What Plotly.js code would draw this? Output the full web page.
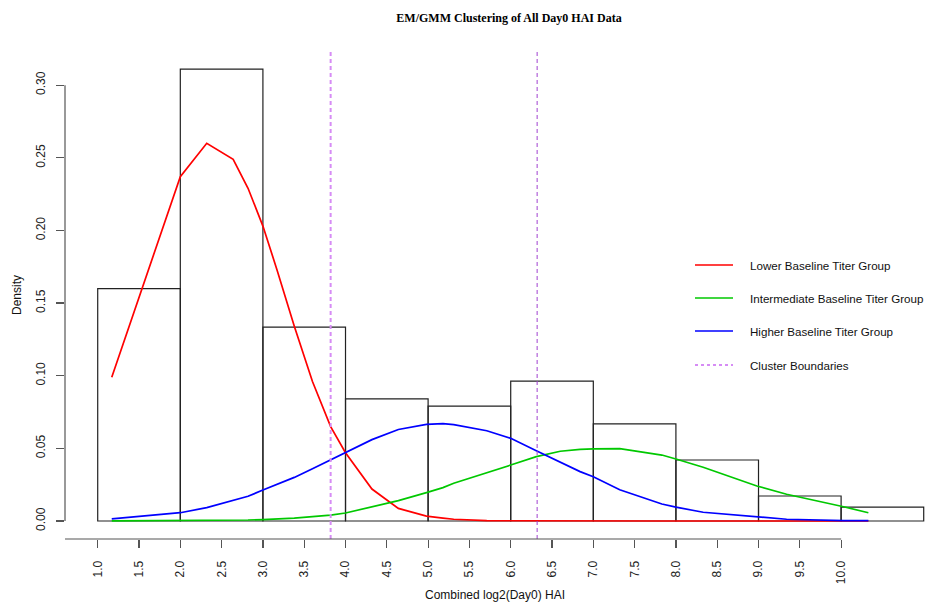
<!DOCTYPE html>
<html>
<head>
<meta charset="utf-8">
<script src="https://cdn.plot.ly/plotly-3.0.1.min.js"></script>
<style>
  html, body { margin: 0; padding: 0; background: #fff; }
  #chart { width: 925px; height: 603px; }
</style>
</head>
<body>
<div id="chart"></div>
<script>
// Histogram of combined log2(Day0) HAI (density scale, unit-wide bins)
const binLeft = [1, 2, 3, 4, 5, 6, 7, 8, 9, 10];
const binDensity = [0.160, 0.311, 0.1335, 0.084, 0.079, 0.0963, 0.0668, 0.042, 0.0172, 0.0096];

// Fitted component densities evaluated at the sorted titer values
const gridX = [1.17, 2.0, 2.32, 2.64, 2.82, 3.0, 3.17, 3.38, 3.6, 3.82, 4.0, 4.32, 4.64, 4.98, 5.18,
               5.31, 5.71, 6.0, 6.31, 6.6, 6.84, 7.0, 7.32, 7.83, 8.0, 8.33, 8.98, 9.34, 10.03, 10.33];
const lowerGroup = [0.099, 0.237, 0.260, 0.249, 0.229, 0.203, 0.173, 0.134, 0.096, 0.065, 0.047, 0.022,
                    0.0087, 0.0034, 0.002, 0.0012, 0.0002, 0.0001, 0, 0, 0, 0, 0, 0, 0, 0, 0, 0, 0, 0];
const intermediateGroup = [0.0001, 0.0002, 0.0003, 0.0005, 0.0007, 0.001, 0.0014, 0.002, 0.003, 0.004,
                           0.0055, 0.0095, 0.014, 0.0195, 0.023, 0.026, 0.033, 0.0385, 0.0443, 0.048,
                           0.0493, 0.0497, 0.0498, 0.0454, 0.0427, 0.037, 0.0241, 0.0184, 0.0098, 0.0057];
const higherGroup = [0.0014, 0.0057, 0.0092, 0.014, 0.017, 0.0213, 0.025, 0.030, 0.036, 0.042, 0.047,
                     0.056, 0.063, 0.0665, 0.067, 0.0663, 0.0621, 0.0569, 0.0484, 0.0408, 0.034, 0.0305,
                     0.0215, 0.0117, 0.0095, 0.006, 0.003, 0.0012, 0.0003, 0.0002];

// Decision boundaries between clusters
const clusterBoundaries = [3.82, 6.32];

// Axis ticks
const xTicks = [1, 1.5, 2, 2.5, 3, 3.5, 4, 4.5, 5, 5.5, 6, 6.5, 7, 7.5, 8, 8.5, 9, 9.5, 10];
const xTickText = ["1.0", "1.5", "2.0", "2.5", "3.0", "3.5", "4.0", "4.5", "5.0", "5.5",
                   "6.0", "6.5", "7.0", "7.5", "8.0", "8.5", "9.0", "9.5", "10.0"];
const yTicks = [0, 0.05, 0.10, 0.15, 0.20, 0.25, 0.30];
const yTickText = ["0.00", "0.05", "0.10", "0.15", "0.20", "0.25", "0.30"];

const legendLabels = ["Lower Baseline Titer Group", "Intermediate Baseline Titer Group",
                      "Higher Baseline Titer Group", "Cluster Boundaries"];

const RED = "#ff0000", GREEN = "#00c800", BLUE = "#0000ff";
const BOUND1 = "#d68cf5", BOUND2 = "#a040d0";
const FONT = "Liberation Sans, Arial, sans-serif";

const traces = [
  {
    type: "bar",
    x: binLeft,
    y: binDensity,
    width: 1,
    offset: 0,
    marker: { color: "rgba(255,255,255,0)", line: { color: "#222", width: 1.2 } },
    hoverinfo: "skip",
    showlegend: false
  },
  { type: "scatter", mode: "lines", x: gridX, y: lowerGroup, line: { color: RED, width: 1.7 }, showlegend: false },
  { type: "scatter", mode: "lines", x: gridX, y: intermediateGroup, line: { color: GREEN, width: 1.7 }, showlegend: false },
  { type: "scatter", mode: "lines", x: gridX, y: higherGroup, line: { color: BLUE, width: 1.7 }, showlegend: false }
];

const shapes = [
  // cluster boundaries
  { type: "line", xref: "x", yref: "paper", x0: clusterBoundaries[0], x1: clusterBoundaries[0], y0: 0, y1: 1,
    line: { color: BOUND1, width: 2, dash: "4px,3px" } },
  { type: "line", xref: "x", yref: "paper", x0: clusterBoundaries[1], x1: clusterBoundaries[1], y0: 0, y1: 1,
    line: { color: BOUND2, width: 1, dash: "4px,3px" } },
  // axis lines spanning the tick range
  { type: "line", xref: "paper", yref: "y", x0: 0, x1: 0, y0: yTicks[0], y1: yTicks[yTicks.length - 1],
    line: { color: "#555", width: 1.2 } },
  { type: "line", xref: "x", yref: "paper", x0: 0.604, x1: xTicks[xTicks.length - 1], y0: 0, y1: 0,
    line: { color: "#555", width: 1.2 } }
];

// legend rows (line sample + label)
const legendColors = [RED, GREEN, BLUE, BOUND1];
const legendRowsPx = [265, 298, 331, 365];
const annotations = [];
const plotTop = 51, plotH = 488;
legendLabels.forEach((lab, i) => {
  const yp = 1 - (legendRowsPx[i] - plotTop) / plotH;
  shapes.push({
    type: "line", xref: "paper", yref: "paper",
    x0: (695 - 65) / 860, x1: (733 - 65) / 860, y0: yp, y1: yp,
    line: { color: legendColors[i], width: i === 3 ? 2 : 1.3, dash: i === 3 ? "3px,3px" : "solid" }
  });
  annotations.push({
    xref: "paper", yref: "paper", x: (749 - 65) / 860, y: yp, xanchor: "left", yanchor: "middle",
    text: lab, showarrow: false, borderpad: 0, font: { family: FONT, size: 11.6, color: "#111" }
  });
});

const layout = {
  width: 925,
  height: 603,
  margin: { l: 65, r: 0, t: 51, b: 64 },
  paper_bgcolor: "#fff",
  plot_bgcolor: "#fff",
  showlegend: false,
  title: {
    text: "<b>EM/GMM Clustering of All Day0 HAI Data</b>",
    font: { family: "Liberation Serif, serif", size: 12, color: "#000" },
    x: 509 / 925, xanchor: "center", y: 1 - 18 / 603, yanchor: "middle"
  },
  xaxis: {
    range: [0.604, 0.604 + 860 / 82.6],
    showgrid: false, zeroline: false, showline: false,
    tickmode: "array", tickvals: xTicks, ticktext: xTickText,
    ticks: "outside", ticklen: 8, tickwidth: 1.2, tickcolor: "#555",
    tickangle: -90, ticklabelstandoff: 8,
    tickfont: { family: FONT, size: 12, color: "#222" },
    title: { text: "Combined log2(Day0) HAI", font: { family: FONT, size: 12, color: "#111" }, standoff: 7 }
  },
  yaxis: {
    range: [-0.01239, 0.3235],
    showgrid: false, zeroline: false, showline: false,
    tickmode: "array", tickvals: yTicks, ticktext: yTickText,
    ticks: "outside", ticklen: 8, tickwidth: 1.2, tickcolor: "#555",
    tickangle: -90, ticklabelstandoff: 6,
    tickfont: { family: FONT, size: 12, color: "#222" },
    title: { text: "Density", font: { family: FONT, size: 12, color: "#111" }, standoff: 10 }
  },
  shapes: shapes,
  annotations: annotations,
  bargap: 0
};

Plotly.newPlot("chart", traces, layout, { displayModeBar: false, staticPlot: true });
</script>
</body>
</html>
